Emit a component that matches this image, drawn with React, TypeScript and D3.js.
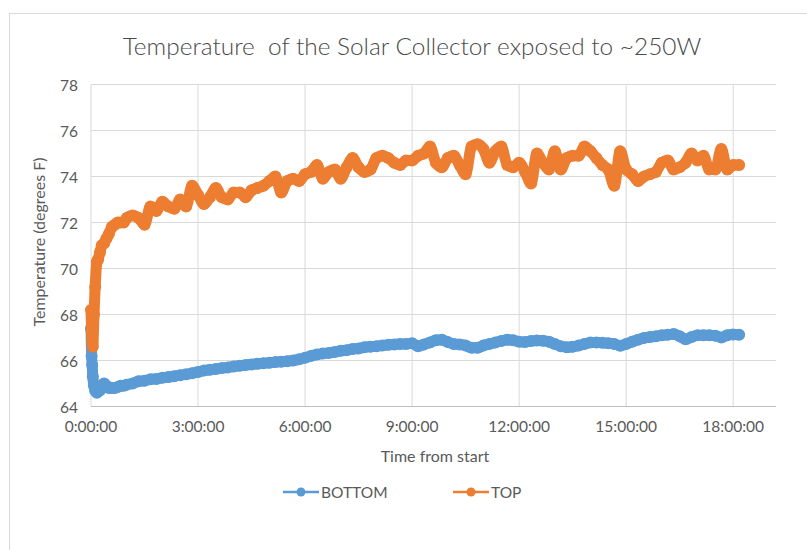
import React from 'react';
import * as d3 from 'd3';

const TITLE = 'Temperature  of the Solar Collector exposed to ~250W';
const X_TITLE = 'Time from start';
const Y_TITLE = 'Temperature (degrees F)';
const SERIES_NAMES = ['BOTTOM', 'TOP'];

const minutes = [
  0, 1, 2, 3, 5, 7, 10, 12, 15, 18, 22, 26, 30, 35, 40, 45, 50, 55, 60,
  70, 80, 90, 100, 110, 120, 130, 140, 150, 160, 170, 180, 190, 200, 210, 220, 230, 240, 250,
  260, 270, 280, 290, 300, 310, 320, 330, 340, 350, 360, 370, 380, 390, 400, 410, 420, 430,
  440, 450, 460, 470, 480, 490, 500, 510, 520, 530, 540, 550, 560, 570, 580, 590, 600, 610,
  620, 630, 640, 650, 660, 670, 680, 690, 700, 710, 720, 730, 740, 750, 760, 770, 780, 790,
  800, 810, 820, 830, 840, 850, 860, 870, 880, 890, 900, 910, 920, 930, 940, 950, 960, 970,
  980, 990, 1000, 1010, 1020, 1030, 1040, 1050, 1060, 1070, 1080, 1090,
];

const bottomTemps = [
  67.4, 66.2, 65.8, 65.3, 64.9, 64.7, 64.6, 64.7, 64.7, 64.9, 65.0, 64.9, 64.8, 64.8, 64.8, 64.85, 64.9, 64.9, 64.95,
  65.0, 65.1, 65.12, 65.18, 65.2, 65.25, 65.28, 65.32, 65.36, 65.4, 65.45, 65.5, 65.56, 65.6, 65.63, 65.67, 65.7, 65.74, 65.77,
  65.8, 65.83, 65.86, 65.88, 65.9, 65.93, 65.95, 65.97, 66.0, 66.05, 66.12, 66.2, 66.26, 66.3, 66.33, 66.37, 66.42, 66.45,
  66.5, 66.52, 66.58, 66.6, 66.62, 66.65, 66.68, 66.7, 66.72, 66.72, 66.75, 66.62, 66.7, 66.78, 66.88, 66.9, 66.8, 66.72,
  66.7, 66.65, 66.55, 66.55, 66.65, 66.72, 66.78, 66.85, 66.9, 66.88, 66.82, 66.8, 66.85, 66.87, 66.86, 66.82, 66.72, 66.62,
  66.58, 66.6, 66.65, 66.72, 66.78, 66.78, 66.77, 66.75, 66.72, 66.64, 66.72, 66.82, 66.9, 66.98, 67.02, 67.05, 67.1, 67.12,
  67.15, 67.05, 66.92, 67.02, 67.1, 67.1, 67.1, 67.08, 67.0, 67.1, 67.13, 67.12,
];

const topTemps = [
  68.2, 67.3, 66.8, 66.6, 68.0, 69.2, 70.3, 70.4, 70.7, 71.0, 71.1, 71.3, 71.5, 71.8, 71.9, 72.0, 72.0, 72.0, 72.2,
  72.3, 72.2, 71.9, 72.7, 72.5, 72.9, 72.7, 72.6, 73.0, 72.7, 73.6, 73.2, 72.8, 73.1, 73.5, 73.1, 73.0, 73.3, 73.3,
  73.1, 73.4, 73.5, 73.6, 73.8, 74.0, 73.3, 73.8, 73.9, 73.8, 74.1, 74.2, 74.5, 73.9, 74.2, 74.3, 73.9, 74.4,
  74.8, 74.4, 74.2, 74.3, 74.8, 74.9, 74.8, 74.6, 74.5, 74.7, 74.7, 74.9, 75.0, 75.3, 74.6, 74.4, 74.8, 74.9,
  74.5, 74.1, 75.3, 75.4, 75.2, 74.6, 75.1, 75.3, 74.5, 74.4, 74.6, 74.2, 73.7, 75.0, 74.6, 74.3, 75.1, 74.3,
  74.8, 74.9, 74.9, 75.3, 75.1, 74.8, 74.5, 74.3, 73.6, 75.1, 74.3, 74.1, 73.8, 74.0, 74.1, 74.2, 74.6, 74.7,
  74.3, 74.4, 74.6, 75.0, 74.7, 74.9, 74.3, 74.3, 75.2, 74.3, 74.5, 74.5,
];

const yTicks = [64, 66, 68, 70, 72, 74, 76, 78];
const xTickMinutes = [0, 180, 360, 540, 720, 900, 1080];
const xTickLabels = ['0:00:00', '3:00:00', '6:00:00', '9:00:00', '12:00:00', '15:00:00', '18:00:00'];

const COLORS = ['#5b9bd5', '#ed7d31'];
const FONT = "Lato, 'Open Sans', sans-serif";
const TEXT = '#595959';
const GRID = '#d9d9d9';

export default function App() {
  const W = 807;
  const H = 550;
  const x = d3.scaleLinear().domain([0, 1152]).range([91, 776]);
  const y = d3.scaleLinear().domain([64, 78]).range([406.5, 84.5]);

  const series = [bottomTemps, topTemps];
  const line = d3
    .line<number>()
    .x((_, i) => x(minutes[i]))
    .y((d) => y(d))
    .curve(d3.curveMonotoneX);

  const legendItems = [
    { name: SERIES_NAMES[0], x0: 283, color: COLORS[0] },
    { name: SERIES_NAMES[1], x0: 453, color: COLORS[1] },
  ];

  return (
    <svg
      width={W}
      height={H}
      style={{ position: 'absolute', left: 0, top: 0, background: '#fff' }}
      fontFamily={FONT}
    >
      <rect x={0} y={0} width={W} height={H} fill="#fff" />
      <rect x={9.5} y={13.5} width={900} height={700} fill="#fff" stroke={GRID} strokeWidth={1} />
      <text x={412} y={45} textAnchor="middle" dominantBaseline="central" fontSize={24.4} fontWeight={300} fill="#4a4a4a" style={{ whiteSpace: 'pre' }}>
        {TITLE}
      </text>

      {yTicks.map((t) => (
        <g key={'y' + t}>
          <line x1={91} x2={776} y1={y(t)} y2={y(t)} stroke={GRID} strokeWidth={1} />
          <text x={78} y={y(t)} textAnchor="end" dominantBaseline="central" fontSize={15.5} fill={TEXT}>
            {t}
          </text>
        </g>
      ))}
      {xTickMinutes.map((m, i) => (
        <g key={'x' + m}>
          <line x1={x(m)} x2={x(m)} y1={84.5} y2={406.5} stroke={GRID} strokeWidth={1} />
          <text x={x(m)} y={426} textAnchor="middle" dominantBaseline="central" fontSize={15.5} fill={TEXT}>
            {xTickLabels[i]}
          </text>
        </g>
      ))}
      <line x1={91} x2={776} y1={406.5} y2={406.5} stroke="#bfbfbf" strokeWidth={1} />

      <text x={435} y={455} textAnchor="middle" dominantBaseline="central" fontSize={16} fill={TEXT}>
        {X_TITLE}
      </text>
      <text
        transform={`translate(38,242) rotate(-90)`}
        textAnchor="middle"
        dominantBaseline="central"
        fontSize={16}
        fill={TEXT}
      >
        {Y_TITLE}
      </text>

      {series.map((s, si) => (
        <g key={'s' + si}>
          <path
            d={line(s) || ''}
            fill="none"
            stroke={COLORS[si]}
            strokeWidth={11}
            strokeLinejoin="round"
            strokeLinecap="round"
          />
          {s.map((v, i) => (
            <circle key={i} cx={x(minutes[i])} cy={y(v)} r={6} fill={COLORS[si]} />
          ))}
        </g>
      ))}

      {legendItems.map((it) => (
        <g key={it.name}>
          <line x1={it.x0} x2={it.x0 + 36} y1={492} y2={492} stroke={it.color} strokeWidth={2.5} />
          <circle cx={it.x0 + 18} cy={492} r={4.5} fill={it.color} />
          <text x={it.x0 + 38} y={492} dominantBaseline="central" fontSize={15.5} fill={TEXT}>
            {it.name}
          </text>
        </g>
      ))}
    </svg>
  );
}
